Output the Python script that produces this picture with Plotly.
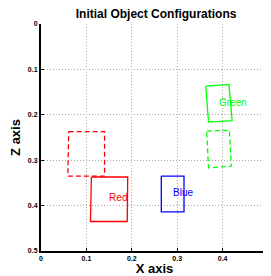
import plotly.graph_objects as go

# Object outlines (x, z) corners, closed polygons
red_init_x = [0.061, 0.140, 0.140, 0.059, 0.061]
red_init_z = [0.237, 0.237, 0.335, 0.335, 0.237]
red_x = [0.111, 0.191, 0.190, 0.109, 0.111]
red_z = [0.337, 0.337, 0.435, 0.435, 0.337]
blue_x = [0.265, 0.315, 0.315, 0.265, 0.265]
blue_z = [0.335, 0.335, 0.414, 0.414, 0.335]
green_x = [0.363, 0.414, 0.421, 0.369, 0.363]
green_z = [0.137, 0.133, 0.213, 0.216, 0.137]
green_init_x = [0.365, 0.415, 0.419, 0.369, 0.365]
green_init_z = [0.236, 0.234, 0.313, 0.317, 0.236]

labels = ["Red", "Blue", "Green"]
label_x = [0.150, 0.291, 0.392]
label_z = [0.384, 0.373, 0.176]
label_colors = ["#ff0000", "#0000ff", "#00ff00"]

tick_vals = [0, 0.1, 0.2, 0.3, 0.4, 0.5]
tick_text = ["0", "0.1", "0.2", "0.3", "0.4", "0.5"]

fig = go.Figure()
fig.add_trace(go.Scatter(x=red_init_x, y=red_init_z, mode="lines",
                         line=dict(color="#ff0000", width=1.3, dash="5px,3px")))
fig.add_trace(go.Scatter(x=red_x, y=red_z, mode="lines",
                         line=dict(color="#ff0000", width=1.3)))
fig.add_trace(go.Scatter(x=blue_x, y=blue_z, mode="lines",
                         line=dict(color="#0000ff", width=1.3)))
fig.add_trace(go.Scatter(x=green_x, y=green_z, mode="lines",
                         line=dict(color="#00ff00", width=1.3)))
fig.add_trace(go.Scatter(x=green_init_x, y=green_init_z, mode="lines",
                         line=dict(color="#00ff00", width=1.3, dash="5px,3px")))
fig.add_trace(go.Scatter(x=label_x, y=label_z, mode="text", text=labels,
                         textposition="middle right",
                         textfont=dict(family="Liberation Sans", size=10, color=label_colors)))

axis_common = dict(
    tickvals=tick_vals, ticktext=tick_text,
    tickfont=dict(family="Liberation Sans", size=7, color="black", weight="bold"),
    showgrid=True, gridcolor="#a8a8a8", griddash="1px,2px", gridwidth=1,
    zeroline=False, showline=True, linecolor="black", linewidth=2,
    ticks="inside", ticklen=3, tickcolor="black", mirror=False,
)

# page body has an 8px margin, so the figure is sized to fit the window
fig.update_layout(
    width=263, height=268,
    margin=dict(l=33, r=3, t=16, b=16),
    paper_bgcolor="white", plot_bgcolor="white",
    showlegend=False,
    title=dict(text="<b>Initial Object Configurations</b>", x=0.563, xanchor="center",
               y=0.978, yanchor="middle",
               font=dict(family="Liberation Sans", size=12, color="black")),
    xaxis=dict(range=[0, 0.5], **axis_common,
               title=dict(text="<b>X axis</b>", standoff=1,
                          font=dict(family="Liberation Sans", size=13, color="black"))),
    yaxis=dict(range=[0.5, 0], **axis_common,
               title=dict(text="<b>Z axis</b>", standoff=6,
                          font=dict(family="Liberation Sans", size=13, color="black"))),
)

fig.write_html("out.html")
